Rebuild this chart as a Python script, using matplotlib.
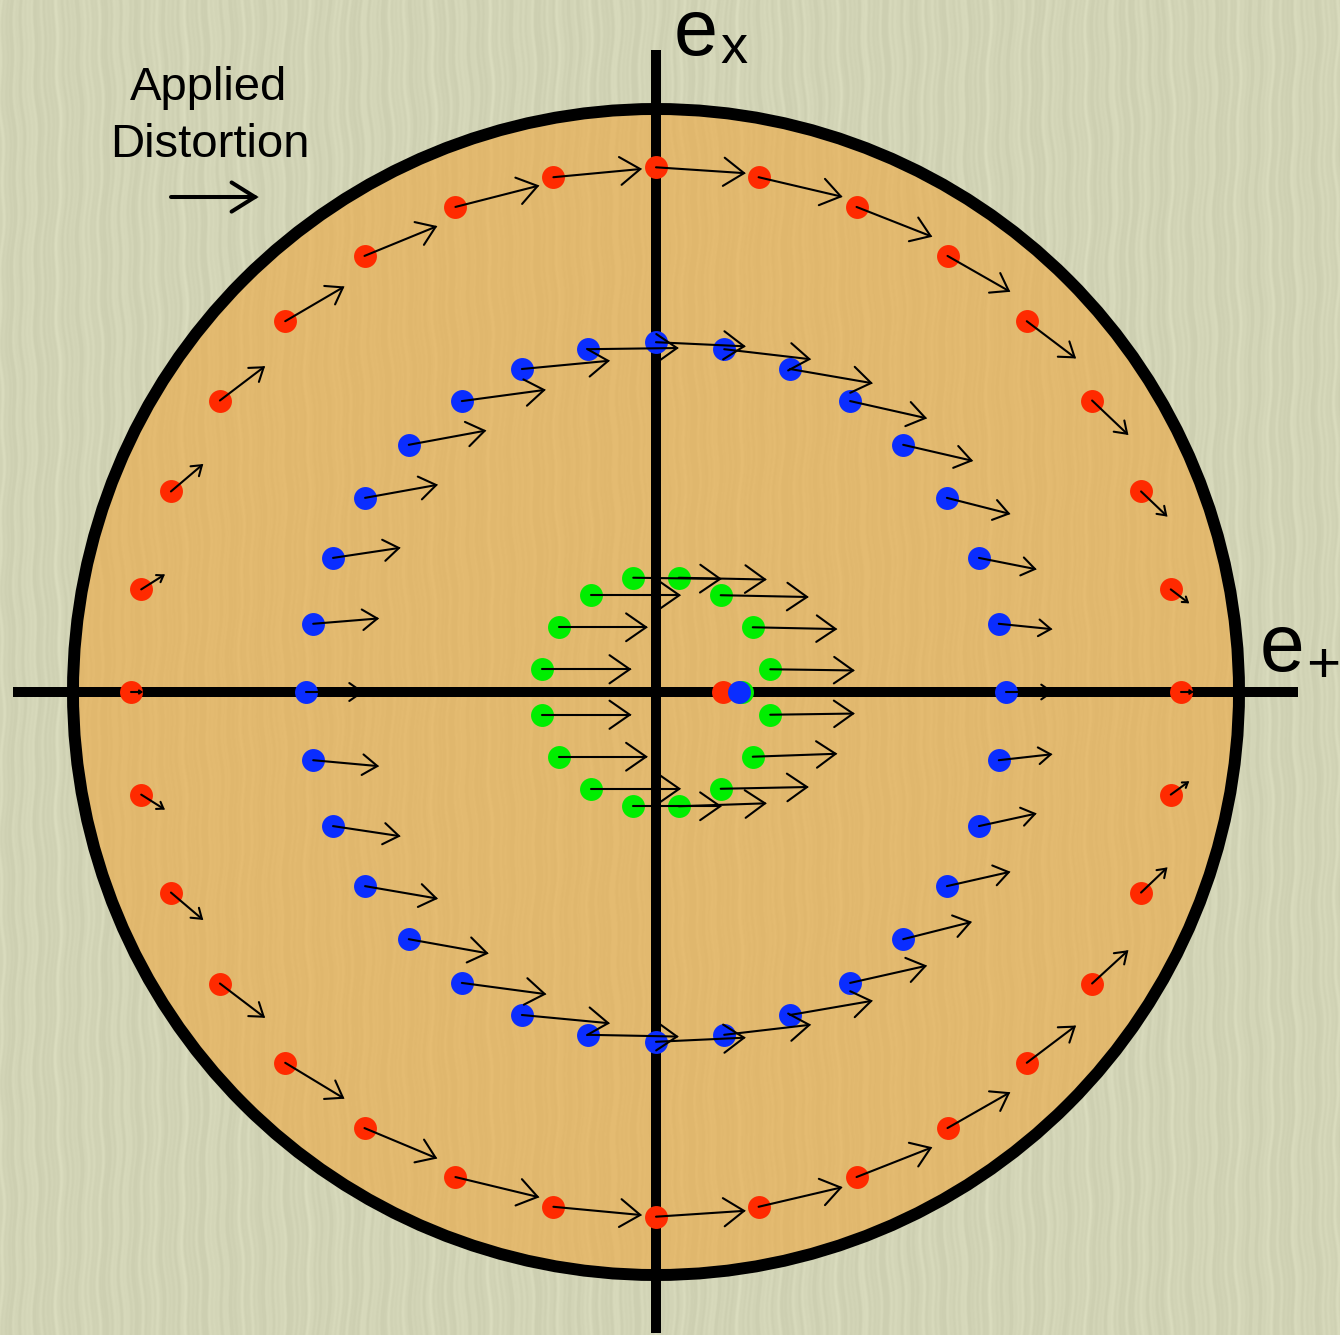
import numpy as np
import matplotlib.pyplot as plt
from matplotlib.patches import Circle

# Outer ring, |e| = 0.9 (e+, ex and shift under the applied distortion)
red_ep = [0.900, 0.883, 0.832, 0.748, 0.636, 0.500, 0.344, 0.176, 0.000, -0.176, -0.344, -0.500,
          -0.636, -0.748, -0.832, -0.883, -0.900, -0.883, -0.832, -0.748, -0.636, -0.500, -0.344, -0.176,
          0.000, 0.176, 0.344, 0.500, 0.636, 0.748, 0.832, 0.883]
red_ex = [0.000, 0.176, 0.344, 0.500, 0.636, 0.748, 0.832, 0.883, 0.900, 0.883, 0.832, 0.748,
          0.636, 0.500, 0.344, 0.176, 0.000, -0.176, -0.344, -0.500, -0.636, -0.748, -0.832, -0.883,
          -0.900, -0.883, -0.832, -0.748, -0.636, -0.500, -0.344, -0.176]
red_dp = [0.019, 0.029, 0.043, 0.060, 0.082, 0.105, 0.127, 0.141, 0.151, 0.149, 0.141, 0.122,
          0.099, 0.075, 0.053, 0.038, 0.017, 0.038, 0.053, 0.075, 0.099, 0.122, 0.141, 0.149,
          0.151, 0.141, 0.127, 0.105, 0.082, 0.060, 0.043, 0.029]
red_dx = [0.000, -0.022, -0.041, -0.057, -0.062, -0.060, -0.050, -0.033, -0.010, 0.014, 0.036, 0.050,
          0.058, 0.057, 0.045, 0.024, 0.000, -0.024, -0.045, -0.057, -0.060, -0.051, -0.034, -0.014,
          0.010, 0.033, 0.050, 0.060, 0.062, 0.055, 0.041, 0.021]

# Middle ring, |e| = 0.6
blue_ep = [0.600, 0.588, 0.554, 0.499, 0.424, 0.333, 0.230, 0.117, 0.000, -0.117, -0.230, -0.333,
           -0.424, -0.499, -0.554, -0.588, -0.600, -0.588, -0.554, -0.499, -0.424, -0.333, -0.230, -0.117,
           0.000, 0.117, 0.230, 0.333, 0.424, 0.499, 0.554, 0.588]
blue_ex = [0.000, 0.117, 0.230, 0.333, 0.424, 0.499, 0.554, 0.588, 0.600, 0.588, 0.554, 0.499,
           0.424, 0.333, 0.230, 0.117, 0.000, -0.117, -0.230, -0.333, -0.424, -0.499, -0.554, -0.588,
           -0.600, -0.588, -0.554, -0.499, -0.424, -0.333, -0.230, -0.117]
blue_dp = [0.079, 0.089, 0.096, 0.106, 0.117, 0.129, 0.139, 0.146, 0.151, 0.153, 0.148, 0.141,
           0.130, 0.122, 0.113, 0.110, 0.096, 0.110, 0.113, 0.122, 0.134, 0.142, 0.148, 0.153,
           0.151, 0.146, 0.139, 0.129, 0.115, 0.106, 0.096, 0.089]
blue_dx = [0.000, -0.009, -0.019, -0.027, -0.027, -0.029, -0.024, -0.017, -0.007, 0.002, 0.014, 0.019,
           0.024, 0.022, 0.017, 0.009, 0.000, -0.010, -0.017, -0.021, -0.024, -0.019, -0.014, -0.003,
           0.007, 0.017, 0.024, 0.029, 0.029, 0.024, 0.021, 0.010]

# Inner ring, |e| = 0.2
green_ep = [0.196, 0.166, 0.111, 0.039, -0.039, -0.111, -0.166, -0.196,
            -0.196, -0.166, -0.111, -0.039, 0.039, 0.111, 0.166, 0.196]
green_ex = [0.039, 0.111, 0.166, 0.196, 0.196, 0.166, 0.111, 0.039,
            -0.039, -0.111, -0.166, -0.196, -0.196, -0.166, -0.111, -0.039]
green_dp = [0.142, 0.142, 0.148, 0.148, 0.149, 0.151, 0.149, 0.151,
            0.151, 0.149, 0.151, 0.149, 0.148, 0.148, 0.142, 0.142]
green_dx = [-0.002, -0.003, -0.003, -0.003, -0.002, 0.000, 0.000, 0.000,
            0.000, 0.000, 0.000, 0.000, 0.005, 0.003, 0.005, 0.002]

# Where a round (e = 0) galaxy ends up for each ring
center_ep = {"green": 0.148, "red": 0.115, "blue": 0.142}

RED, BLUE, GREEN = "#ff2a00", "#0a2dff", "#00ee00"
BG, DISK = np.array([210, 212, 182]), np.array([226, 185, 111])

W, H = 1340, 1335
x0, x1 = -656 / 583, (W - 656) / 583
y0, y1 = (692 - H) / 583, 692 / 583

fig = plt.figure(figsize=(W / 100, H / 100), dpi=100)
ax = fig.add_axes([0, 0, 1, 1])
ax.set_xlim(x0, x1)
ax.set_ylim(y0, y1)
ax.axis("off")

# vertical paper grain
cols = np.arange(W)[None, :].astype(float)
rows = np.arange(H)[:, None].astype(float)
xs = cols + 2.0 * np.sin(rows / 41.0 + cols / 57.0) + 1.2 * np.sin(rows / 13.0 + cols / 29.0)
grain = (0.30 * np.sin(2 * np.pi * xs / 4.7) + 0.35 * np.sin(2 * np.pi * xs / 8.3 + 1.3)
         + 0.40 * np.sin(2 * np.pi * xs / 13.9 + 0.4) + 0.30 * np.sin(2 * np.pi * xs / 31.0 + 2.1))
grain = np.clip(grain, -0.6, 1.2)
bg_img = np.clip(BG[None, None, :] + 7 * grain[..., None], 0, 255).astype(np.uint8)
disk_img = np.clip(DISK[None, None, :] + 3 * grain[..., None], 0, 255).astype(np.uint8)

ax.imshow(bg_img, extent=(x0, x1, y0, y1), origin="upper", zorder=0, aspect="auto")
disk = ax.imshow(disk_img, extent=(x0, x1, y0, y1), origin="upper", zorder=1, aspect="auto")
clip = Circle((0, 0), 1.0, transform=ax.transData)
disk.set_clip_path(clip)

# axes and unit circle
ax.plot([0, 0], [-1.1, 1.101], color="black", lw=7.2, solid_capstyle="butt", zorder=2)
ax.plot([-1.103, 1.101], [0, 0], color="black", lw=7.2, solid_capstyle="butt", zorder=2)
ax.add_patch(Circle((0, 0), 1.0, fill=False, edgecolor="black", lw=8.6, zorder=2))

def open_arrow(x, y, dx, dy, lw=1.5, hl=0.23, hw=0.16, head=None):
    L = np.hypot(dx, dy)
    if L == 0:
        return
    ux, uy = dx / L, dy / L
    tx, ty = x + dx, y + dy
    ax.plot([x, tx], [y, ty], color="black", lw=lw, solid_capstyle="round", zorder=5)
    a = head[0] if head else hl * L
    b = head[1] if head else hw * L
    ax.plot([tx - a * ux - b * uy, tx, tx - a * ux + b * uy],
            [ty - a * uy + b * ux, ty, ty - a * uy - b * ux],
            color="black", lw=lw, solid_joinstyle="miter", solid_capstyle="round", zorder=5)

ms = 16.5
ax.plot(green_ep, green_ex, "o", color=GREEN, ms=ms, mec="none", zorder=3)
ax.plot(red_ep, red_ex, "o", color=RED, ms=ms, mec="none", zorder=3)
ax.plot(blue_ep, blue_ex, "o", color=BLUE, ms=ms, mec="none", zorder=3)
ax.plot([center_ep["green"]], [0], "o", color=GREEN, ms=ms, mec="none", zorder=3.1)
ax.plot([center_ep["red"]], [0], "o", color=RED, ms=ms, mec="none", zorder=3.2)
ax.plot([center_ep["blue"]], [0], "o", color=BLUE, ms=ms, mec="none", zorder=3.3)

for ep, ex, dp, dx in [(red_ep, red_ex, red_dp, red_dx),
                       (blue_ep, blue_ex, blue_dp, blue_dx),
                       (green_ep, green_ex, green_dp, green_dx)]:
    for i in range(len(ep)):
        open_arrow(ep[i], ex[i], dp[i], dx[i])

# key
font = "Liberation Sans"
ax.text(-0.767, 1.015, "Applied", ha="center", va="baseline", fontsize=34, family=font)
ax.text(-0.765, 0.918, "Distortion", ha="center", va="baseline", fontsize=34, family=font)
open_arrow(-0.832, 0.849, 0.144, 0.0, lw=2.9, head=(0.040, 0.025))

# axis labels
ax.text(0.031, 1.092, "e", ha="left", va="baseline", fontsize=57, family=font)
ax.text(0.110, 1.079, "x", ha="left", va="baseline", fontsize=39, family=font)
ax.text(1.036, 0.036, "e", ha="left", va="baseline", fontsize=58, family=font)
ax.text(1.115, 0.017, "+", ha="left", va="baseline", fontsize=42, family=font)

fig.savefig("out.png", dpi=100)
